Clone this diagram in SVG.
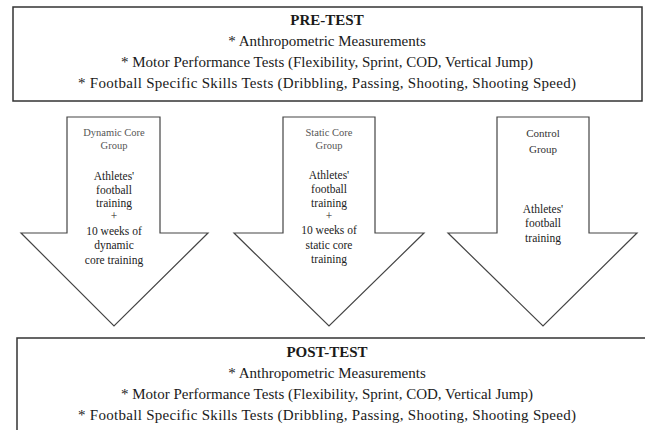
<svg xmlns="http://www.w3.org/2000/svg" width="645" height="430" viewBox="0 0 645 430">
<style>
.box{fill:#fff;stroke:#333;stroke-width:1.5}
.arrow{fill:#fff;stroke:#444;stroke-width:1.2;stroke-linejoin:miter}
.t{font-family:"Liberation Serif","Times New Roman",serif;font-size:15px;fill:#1a1a1a;text-anchor:middle}
.h{font-weight:bold}
.g{font-family:"Liberation Serif","Times New Roman",serif;font-size:10.5px;fill:#555;text-anchor:middle}
.g2{font-family:"Liberation Serif","Times New Roman",serif;font-size:11px;fill:#333;text-anchor:middle}
.b{font-family:"Liberation Serif","Times New Roman",serif;font-size:11.5px;fill:#222;text-anchor:middle}
</style>
<rect width="645" height="430" fill="#fff"/>
<g id="connectors">
<g id="arrow-dynamic">
<polygon class="arrow" points="67,117 160,117 160,233 208,233 114,326 21,233 67,233"/>
<text class="g" x="114" y="136">Dynamic Core</text>
<text class="g" x="114" y="149">Group</text>
<text class="b" x="114" y="180">Athletes'</text>
<text class="b" x="114" y="194">football</text>
<text class="b" x="114" y="207">training</text>
<text class="b" x="114" y="220">+</text>
<text class="b" x="114" y="235">10 weeks of</text>
<text class="b" x="114" y="249">dynamic</text>
<text class="b" x="114" y="264">core training</text>
</g>
<g id="arrow-static">
<polygon class="arrow" points="283,117 375,117 375,233 424,233 329,326 234,233 283,233"/>
<text class="g" x="329" y="136">Static Core</text>
<text class="g" x="329" y="149">Group</text>
<text class="b" x="329" y="179">Athletes'</text>
<text class="b" x="329" y="193">football</text>
<text class="b" x="329" y="207">training</text>
<text class="b" x="329" y="220">+</text>
<text class="b" x="329" y="234">10 weeks of</text>
<text class="b" x="329" y="249">static core</text>
<text class="b" x="329" y="263">training</text>
</g>
<g id="arrow-control">
<polygon class="arrow" points="497,117 589,117 589,233 637,233 543,326 448,233 497,233"/>
<text class="g2" x="543" y="137">Control</text>
<text class="g2" x="543" y="153">Group</text>
<text class="b" x="543" y="213">Athletes'</text>
<text class="b" x="543" y="227">football</text>
<text class="b" x="543" y="242">training</text>
</g>
</g>
<g id="pre-test">
<rect class="box" x="13" y="7" width="629" height="94"/>
<text class="t h" x="327" y="25">PRE-TEST</text>
<text class="t" x="327" y="46">* Anthropometric Measurements</text>
<text class="t" x="327" y="67">* Motor Performance Tests (Flexibility, Sprint, COD, Vertical Jump)</text>
<text class="t" x="327" y="88" textLength="498" lengthAdjust="spacing">* Football Specific Skills Tests (Dribbling, Passing, Shooting, Shooting Speed)</text>
</g>
<g id="post-test">
<rect class="box" x="17" y="338" width="640" height="100"/>
<text class="t h" x="327" y="357">POST-TEST</text>
<text class="t" x="327" y="378">* Anthropometric Measurements</text>
<text class="t" x="327" y="399">* Motor Performance Tests (Flexibility, Sprint, COD, Vertical Jump)</text>
<text class="t" x="327" y="420" textLength="498" lengthAdjust="spacing">* Football Specific Skills Tests (Dribbling, Passing, Shooting, Shooting Speed)</text>
</g>
</svg>
